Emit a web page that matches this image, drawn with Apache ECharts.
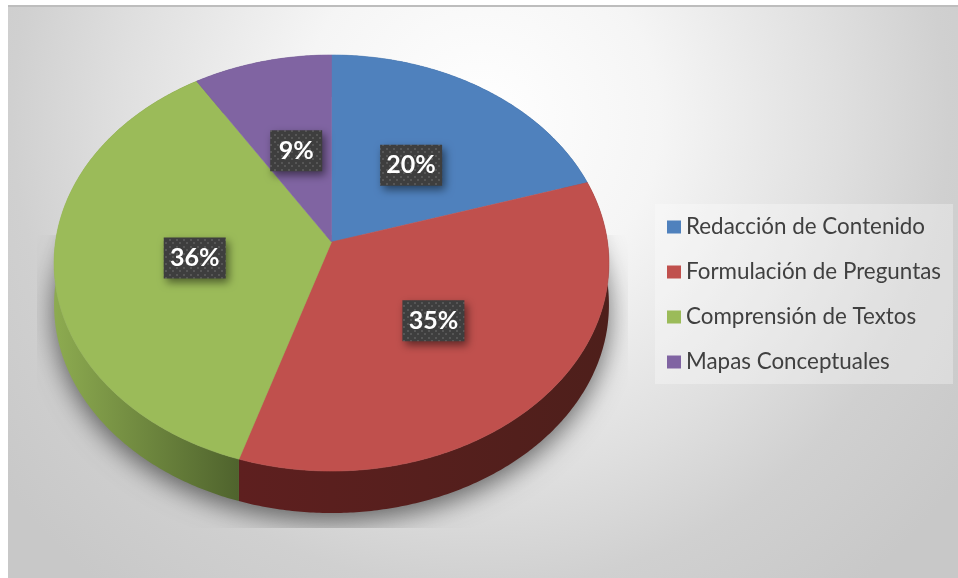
<!DOCTYPE html>
<html>
<head>
<meta charset="utf-8">
<style>html,body{margin:0;padding:0;background:#fff}#c{width:958px;height:578px}</style>
<script src="https://cdn.jsdelivr.net/npm/echarts@6/dist/echarts.min.js"></script>
</head>
<body>
<div id="c"></div>
<script>
const categories = ['Redacción de Contenido', 'Formulación de Preguntas', 'Comprensión de Textos', 'Mapas Conceptuales'];
const values = [20.2, 34.7, 36.2, 8.9];
const colors = ['#4f81bd', '#c0504d', '#9bbb59', '#8064a2'];
const wallStart = ['#2f4d72', '#5e1f1f', '#8dab50', '#4c3c61'];
const wallEnd = ['#2f4d72', '#4e1f1b', '#4f632d', '#4c3c61'];

const cx = 331.5, cy = 242, A = 276, B = 205.9, K = 0.101, DEPTH = 42;
const total = values.reduce((a, b) => a + b, 0);

function project(theta, r) {
  const u = Math.sin(theta) * r, v = Math.cos(theta) * r;
  const w = 1 + K * v;
  return [cx + A * u / w, cy - B * v / w];
}
function arc(a0, a1) {
  const pts = [], n = Math.max(2, Math.ceil((a1 - a0) / 0.01));
  for (let i = 0; i <= n; i++) pts.push(project(a0 + (a1 - a0) * i / n, 1));
  return pts;
}
const dots = document.createElement('canvas');
dots.width = 7; dots.height = 7;
(function () {
  const g = dots.getContext('2d');
  g.fillStyle = '#3e3e3e'; g.fillRect(0, 0, 7, 7);
  g.fillStyle = '#565656';
  g.fillRect(1, 1, 2, 2); g.fillRect(4, 4, 2, 2);
})();

function sliceRenderer(idx) {
  return function (params, api) {
    if (params.dataIndex !== 0) return null;
    const value = api.value(0);
    const before = values.slice(0, idx).reduce((a, b) => a + b, 0);
    const a0 = before / total * Math.PI * 2;
    const a1 = (before + value) / total * Math.PI * 2;
    const top = arc(a0, a1);
    const wall = top.concat(top.map(p => [p[0], p[1] + DEPTH]).reverse());
    const xs = top.map(p => p[0]);
    const mid = project((a0 + a1) / 2, 0.5);
    const lx = mid[0] + 1, ly = mid[1] + 3;
    const text = Math.round(value / total * 100) + '%';
    const w = 32 + 10 * text.length, h = 41;
    return {
      type: 'group',
      children: [
        {
          type: 'polygon', z2: 1, shape: { points: wall },
          style: {
            fill: new echarts.graphic.LinearGradient(Math.min(...xs), 0, Math.max(...xs), 0, [
              { offset: 0, color: wallStart[idx] }, { offset: 1, color: wallEnd[idx] }
            ], true)
          }
        },
        {
          type: 'polygon', z2: 2,
          shape: { points: [[cx, cy]].concat(top) },
          style: { fill: colors[idx], stroke: colors[idx], lineWidth: 0.6 }
        },
        {
          type: 'rect', z2: 3,
          shape: { x: lx - w / 2, y: ly - h / 2, width: w, height: h },
          style: {
            fill: { image: dots, repeat: 'repeat' },
            shadowBlur: 9, shadowOffsetX: 3, shadowOffsetY: 4, shadowColor: 'rgba(0,0,0,0.5)'
          }
        },
        {
          type: 'text', z2: 4,
          style: {
            x: lx, y: ly, text: text, fill: '#fff',
            font: 'bold 25px Lato, "Open Sans", sans-serif',
            align: 'center', verticalAlign: 'middle'
          }
        }
      ]
    };
  };
}

function shadowRenderer() {
  const pts = arc(0, Math.PI * 2).map(p => [p[0], p[1] + DEPTH - 4]);
  return {
    type: 'group',
    children: [{
      type: 'polygon', z2: 0, shape: { points: pts },
      clipPath: { type: 'rect', shape: { x: 37, y: 235, width: 591, height: 293 } },
      style: { fill: '#999', shadowBlur: 26, shadowOffsetY: 12, shadowColor: 'rgba(0,0,0,0.55)' }
    }]
  };
}

const chart = echarts.init(document.getElementById('c'), null, { renderer: 'canvas' });
chart.setOption({
  animation: false,
  tooltip: { show: false },
  graphic: [
    {
      type: 'rect', z: 0, silent: true,
      shape: { x: 8, y: 5, width: 950, height: 573 },
      style: {
        fill: new echarts.graphic.RadialGradient(480, 120, 600, [
          { offset: 0, color: '#ffffff' },
          { offset: 0.3, color: '#f5f5f5' },
          { offset: 0.6, color: '#dfdfdf' },
          { offset: 0.78, color: '#d0d0d0' },
          { offset: 1, color: '#c8c8c8' }
        ], true)
      }
    },
    { type: 'rect', z: 1, silent: true, shape: { x: 8, y: 5, width: 950, height: 2 }, style: { fill: '#bdbdbd' } },
    { type: 'rect', z: 1, silent: true, shape: { x: 655, y: 204, width: 298, height: 180 }, style: { fill: 'rgba(255,255,255,0.3)' } }
  ],
  legend: {
    data: categories,
    orient: 'vertical',
    left: 667, top: 216,
    padding: 0,
    itemWidth: 14, itemHeight: 13, itemGap: 23,
    selectedMode: false,
    icon: 'rect',
    textStyle: { color: '#404040', fontFamily: 'Lato, "Open Sans", sans-serif', fontSize: 22.4, padding: [0, 0, 0, 0] }
  },
  series: [
    { type: 'custom', coordinateSystem: 'none', silent: true, z: 1, renderItem: shadowRenderer, data: [[0]] }
  ].concat(categories.map((name, i) => ({
    type: 'custom',
    name: name,
    coordinateSystem: 'none',
    silent: true,
    z: 2,
    itemStyle: { color: colors[i] },
    renderItem: sliceRenderer(i),
    data: [[values[i]]]
  })))
});
</script>
</body>
</html>
